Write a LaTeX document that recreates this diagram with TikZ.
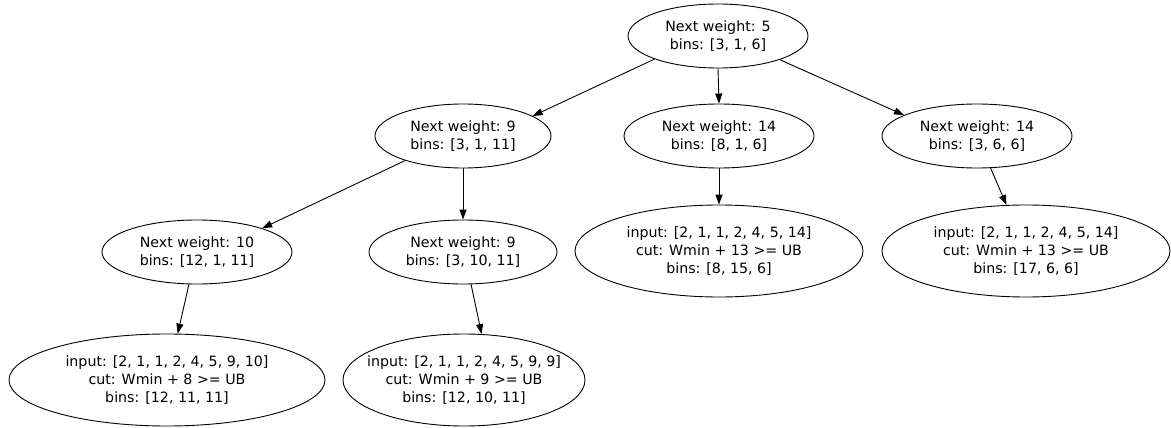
\documentclass[tikz,border=0pt]{standalone}
\usepackage{fontspec}
\setmainfont{DejaVu Sans}
\usetikzlibrary{shapes.geometric,arrows.meta}
\tikzset{
  gnode/.style={ellipse, draw, line width=0.9pt, inner xsep=-60pt, inner ysep=-30pt, align=center,
    font=\fontsize{14.2}{17.6}\selectfont},
  small/.style={gnode, minimum height=64pt},
  big/.style={gnode, minimum height=92pt},
  edge/.style={draw, line width=0.9pt, -{Triangle[length=10pt,width=7pt]}}
}
\begin{document}
\begin{tikzpicture}[x=1pt,y=-1pt]
\useasboundingbox (0,0) rectangle (1171,428);
\node[small, minimum width=180pt] (r) at (718,36) {Next weight: 5\\bins: [3, 1, 6]};
\node[small, minimum width=176pt] (a) at (463,136) {Next weight: 9\\bins: [3, 1, 11]};
\node[small, minimum width=190pt] (b) at (719,136) {Next weight: 14\\bins: [8, 1, 6]};
\node[small, minimum width=190pt] (c) at (977,136) {Next weight: 14\\bins: [3, 6, 6]};
\node[small, minimum width=190pt] (d) at (197,252) {Next weight: 10\\bins: [12, 1, 11]};
\node[small, minimum width=188pt] (e) at (463,252) {Next weight: 9\\bins: [3, 10, 11]};
\node[big, minimum width=288pt] (f) at (719,251) {input: [2, 1, 1, 2, 4, 5, 14]\\cut: Wmin + 13 >= UB\\bins: [8, 15, 6]};
\node[big, minimum width=288pt] (g) at (1026,251) {input: [2, 1, 1, 2, 4, 5, 14]\\cut: Wmin + 13 >= UB\\bins: [17, 6, 6]};
\node[big, minimum width=316pt] (h) at (167,380) {input: [2, 1, 1, 2, 4, 5, 9, 10]\\cut: Wmin + 8 >= UB\\bins: [12, 11, 11]};
\node[big, minimum width=242pt] (i) at (464,380) {input: [2, 1, 1, 2, 4, 5, 9, 9]\\cut: Wmin + 9 >= UB\\bins: [12, 10, 11]};
\path[edge] (r.200) -- (a.16);
\path[edge] (r.south) -- (b.north);
\path[edge] (r.-21) -- (c.164);
\path[edge] (a.203) -- (d.20);
\path[edge] (a.south) -- (e.north);
\path[edge] (b.south) -- (f.north);
\path[edge] (c.-67) -- (g.113);
\path[edge] (d.-104) -- (h.77);
\path[edge] (e.-76) -- (i.69);
\end{tikzpicture}
\end{document}
